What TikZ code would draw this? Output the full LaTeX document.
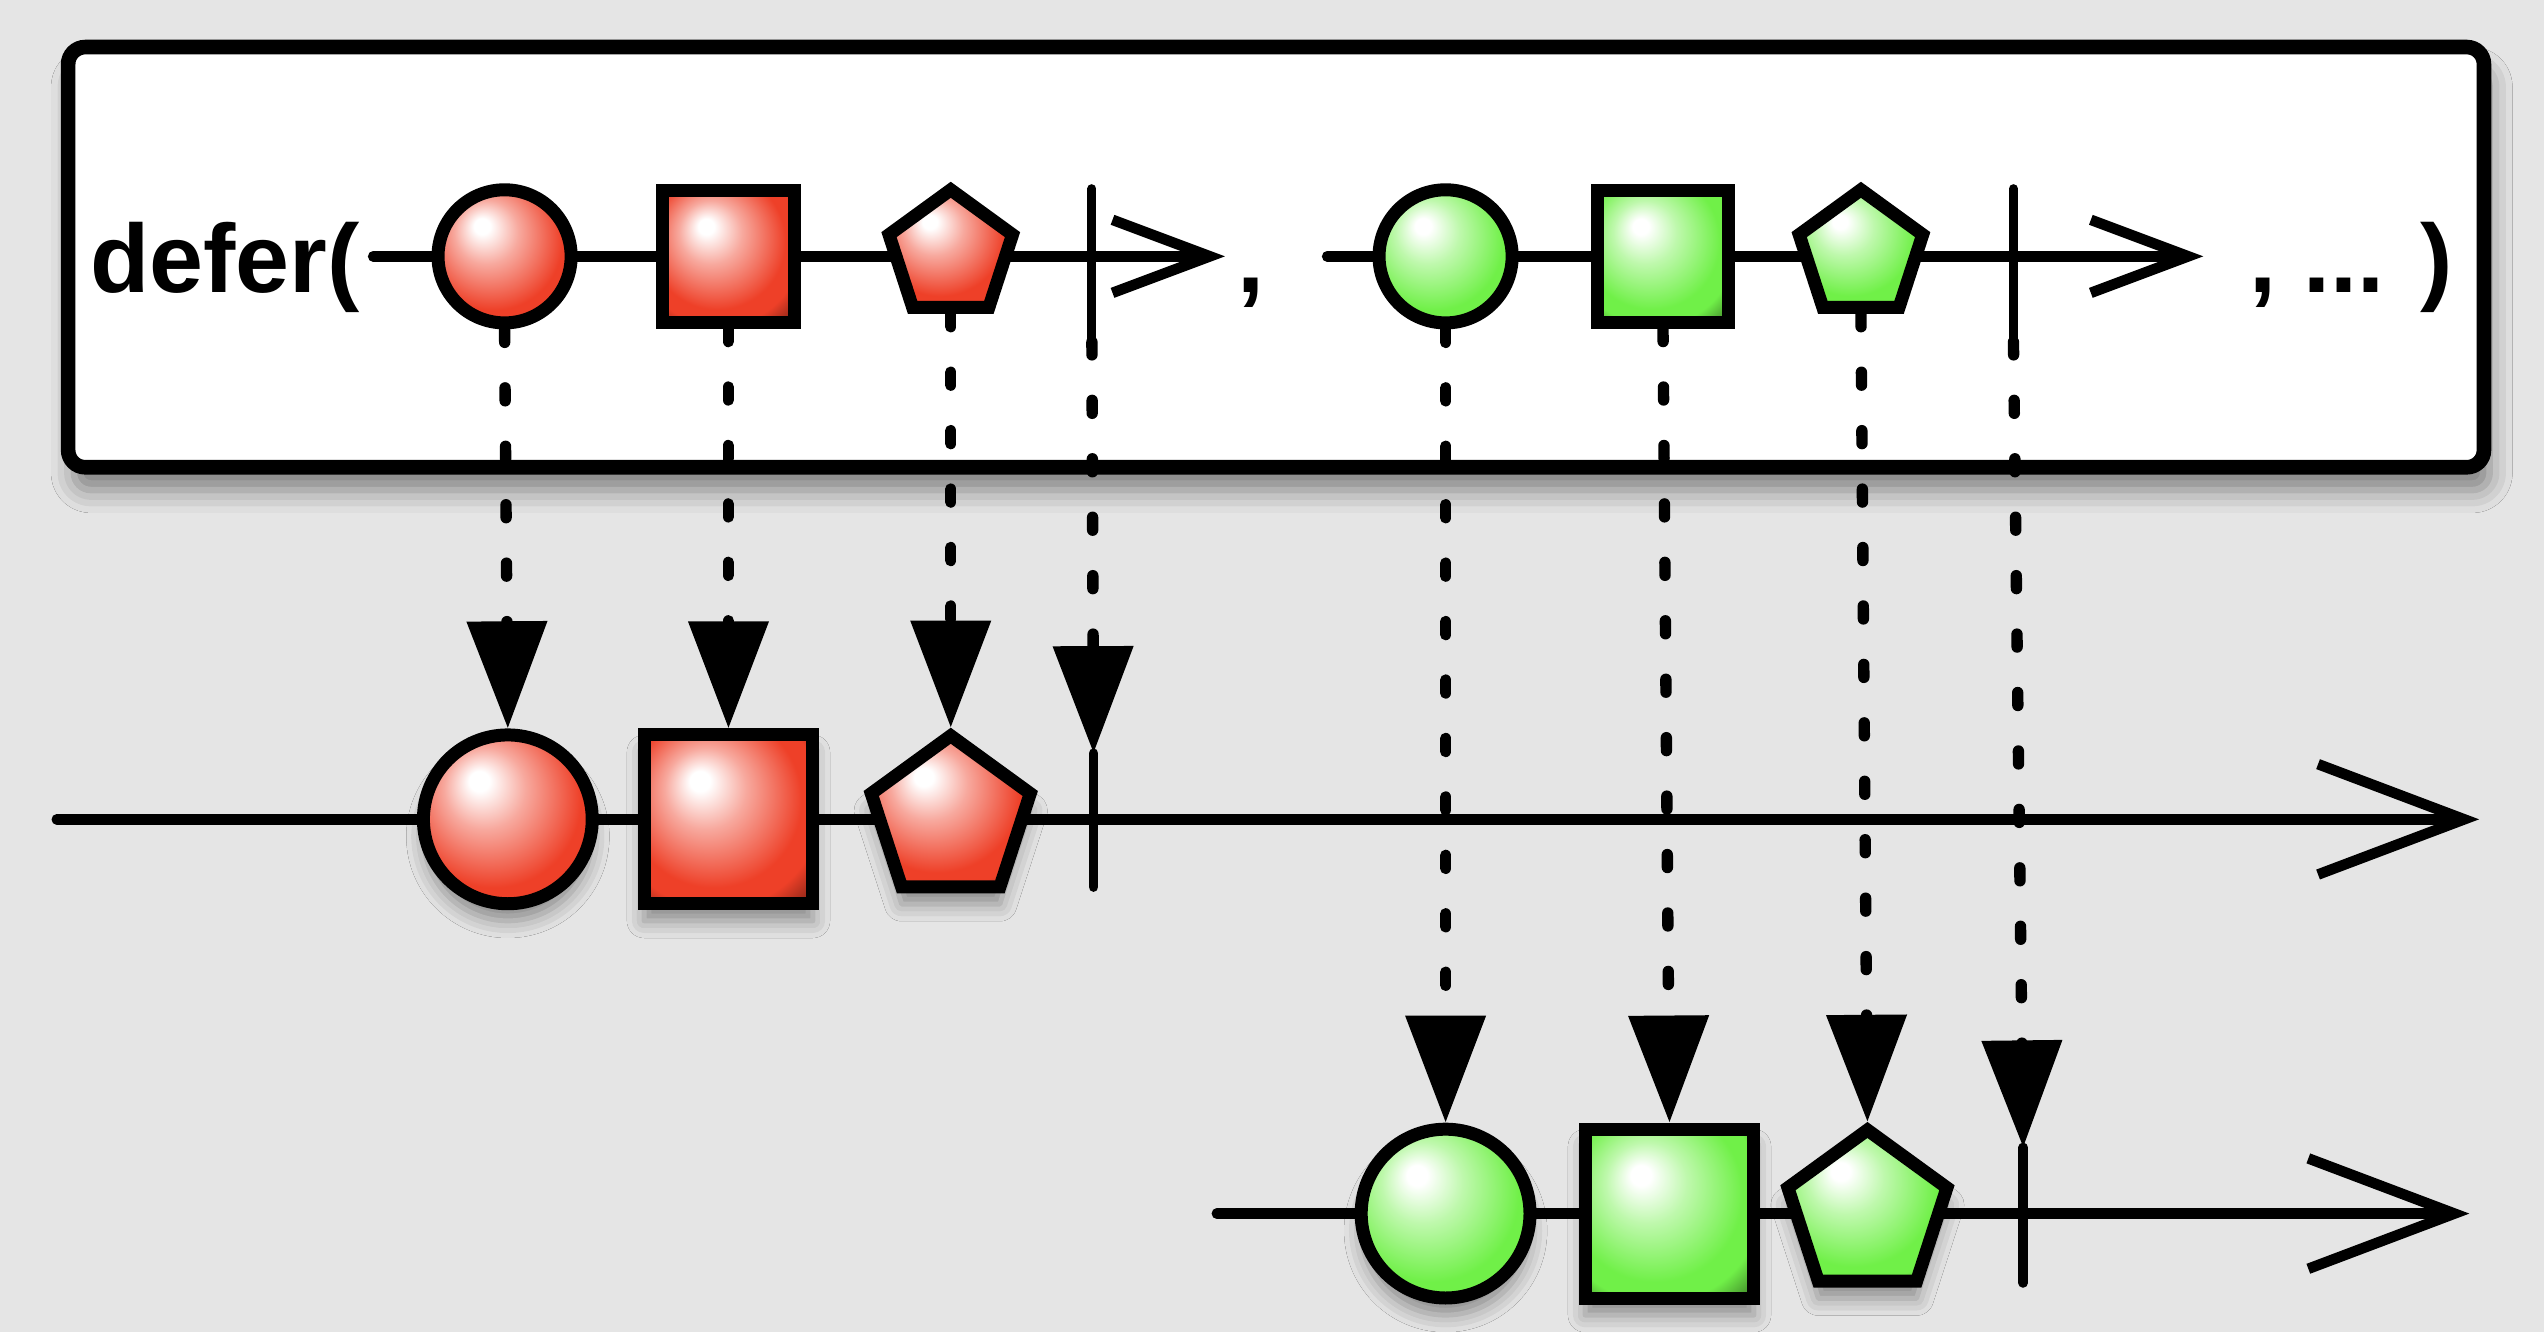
\documentclass[tikz,border=0pt]{standalone}
\usepackage{fontspec}
\setmainfont{Liberation Sans}
\usetikzlibrary{shapes.geometric, arrows.meta, shadows.blur}
\definecolor{backdrop}{RGB}{229, 229, 229}
\definecolor{redball}{RGB}{238, 64, 40}
\definecolor{greenball}{RGB}{112, 240, 72}
\pgfdeclareradialshading{redshine}{\pgfpoint{-9bp}{12bp}}{color(0bp)=(white); color(3bp)=(white); color(12bp)=(redball!45!white); color(26bp)=(redball); color(31bp)=(redball); color(38bp)=(redball!55!black); color(44bp)=(redball!20!black); color(50bp)=(black)}
\pgfdeclareradialshading{greenshine}{\pgfpoint{-9bp}{12bp}}{color(0bp)=(white); color(3bp)=(white); color(12bp)=(greenball!45!white); color(26bp)=(greenball); color(31bp)=(greenball); color(38bp)=(greenball!55!black); color(44bp)=(greenball!20!black); color(50bp)=(black)}

\begin{document}
\begin{tikzpicture}[
    x=0.01cm, y=-0.01cm,
    every node/.style={font=\fontsize{17}{20}\selectfont\bfseries},
    wrapper/.style={draw, line width=0.09cm, fill=white, rounded corners=3pt, blur shadow={shadow xshift=1pt, shadow yshift=-4pt, shadow blur radius=4pt, shadow opacity=45}},
    word/.style={inner sep=0pt, anchor=base west},
    marble/.style={draw, line width=0.08cm, inner sep=0pt},
    ball/.style={marble, circle},
    block/.style={marble, rectangle},
    gem/.style={marble, regular polygon, regular polygon sides=5},
    lift/.style={blur shadow={shadow xshift=0pt, shadow yshift=-3pt, shadow blur radius=3pt, shadow opacity=40}},
    tickmark/.style={inner sep=0pt, minimum width=0pt},
    timeline/.style={line width=0.065cm, line cap=round},
    tick/.style={line width=0.055cm, line cap=round},
    feed/.style={line width=0.07cm, line cap=round, dash pattern=on 0.08cm off 0.28cm, -{Triangle[length=0.66cm, width=0.48cm, fill=black]}}
]
    \fill[backdrop] (0,0) rectangle (1568,821);
    \draw[wrapper] (42,29) rectangle (1531,288);

    % Timelines
    \coordinate (r1in) at (230,158);  \coordinate (r1out) at (755,158);
    \coordinate (g1in) at (818,158);  \coordinate (g1out) at (1358,158);
    \coordinate (r2in) at (35,505);   \coordinate (r2out) at (1528,505);
    \coordinate (g2in) at (750,748);  \coordinate (g2out) at (1522,748);
    \draw[timeline, -{Straight Barb[length=0.6cm, width=0.45cm]}] (r1in) -- (r1out);
    \draw[timeline, -{Straight Barb[length=0.6cm, width=0.45cm]}] (g1in) -- (g1out);
    \draw[timeline, -{Straight Barb[length=0.9cm, width=0.68cm]}] (r2in) -- (r2out);
    \draw[timeline, -{Straight Barb[length=0.9cm, width=0.68cm]}] (g2in) -- (g2out);

    % Text
    \node[word] (opener) at (55,180) {defer(};
    \node[word] (comma) at (762,180) {,};
    \node[word] (closer) at (1386,180) {, ... )};

    % Nodes, inside defer
    \node[ball, shading=redshine, minimum size=0.82cm] (rc1) at (311,158) {};
    \node[block, shading=redshine, minimum size=0.81cm] (rs1) at (449,158) {};
    \node[gem, shading=redshine, minimum size=0.8cm] (rp1) at (586,157) {};
    \node[tickmark, minimum height=0.93cm] (rt1) at (673,163.5) {};
    \node[ball, shading=greenshine, minimum size=0.82cm] (gc1) at (891,158) {};
    \node[block, shading=greenshine, minimum size=0.81cm] (gs1) at (1025,158) {};
    \node[gem, shading=greenshine, minimum size=0.8cm] (gp1) at (1147,157) {};
    \node[tickmark, minimum height=0.93cm] (gt1) at (1241,163.5) {};
    \draw[tick] (rt1.north) -- (rt1.south);
    \draw[tick] (gt1.north) -- (gt1.south);

    % Nodes, output
    \node[ball, lift, shading=redshine, minimum size=1.04cm] (rc2) at (313,505) {};
    \node[block, lift, shading=redshine, minimum size=1.04cm] (rs2) at (449,505) {};
    \node[gem, lift, shading=redshine, minimum size=1.03cm] (rp2) at (586,505) {};
    \node[tickmark, minimum height=0.81cm] (rt2) at (674,505.5) {};
    \node[ball, lift, shading=greenshine, minimum size=1.04cm] (gc2) at (891,748) {};
    \node[block, lift, shading=greenshine, minimum size=1.04cm] (gs2) at (1029,748) {};
    \node[gem, lift, shading=greenshine, minimum size=1.03cm] (gp2) at (1151,748) {};
    \node[tickmark, minimum height=0.82cm] (gt2) at (1247,749) {};
    \draw[tick, line width=0.06cm] (rt2.north) -- (rt2.south);
    \draw[tick, line width=0.06cm] (gt2.north) -- (gt2.south);

    % Connections
    \draw[feed] (rc1.south) -- (rc2.north);
    \draw[feed] (rs1.south) -- (rs2.north);
    \draw[feed] (rp1.south) -- (rp2.north);
    \draw[feed] (rt1.south) -- (rt2.north);
    \draw[feed] (gc1.south) -- (gc2.north);
    \draw[feed] (gs1.south) -- (gs2.north);
    \draw[feed] (gp1.south) -- (gp2.north);
    \draw[feed] (gt1.south) -- (gt2.north);
\end{tikzpicture}
\end{document}
